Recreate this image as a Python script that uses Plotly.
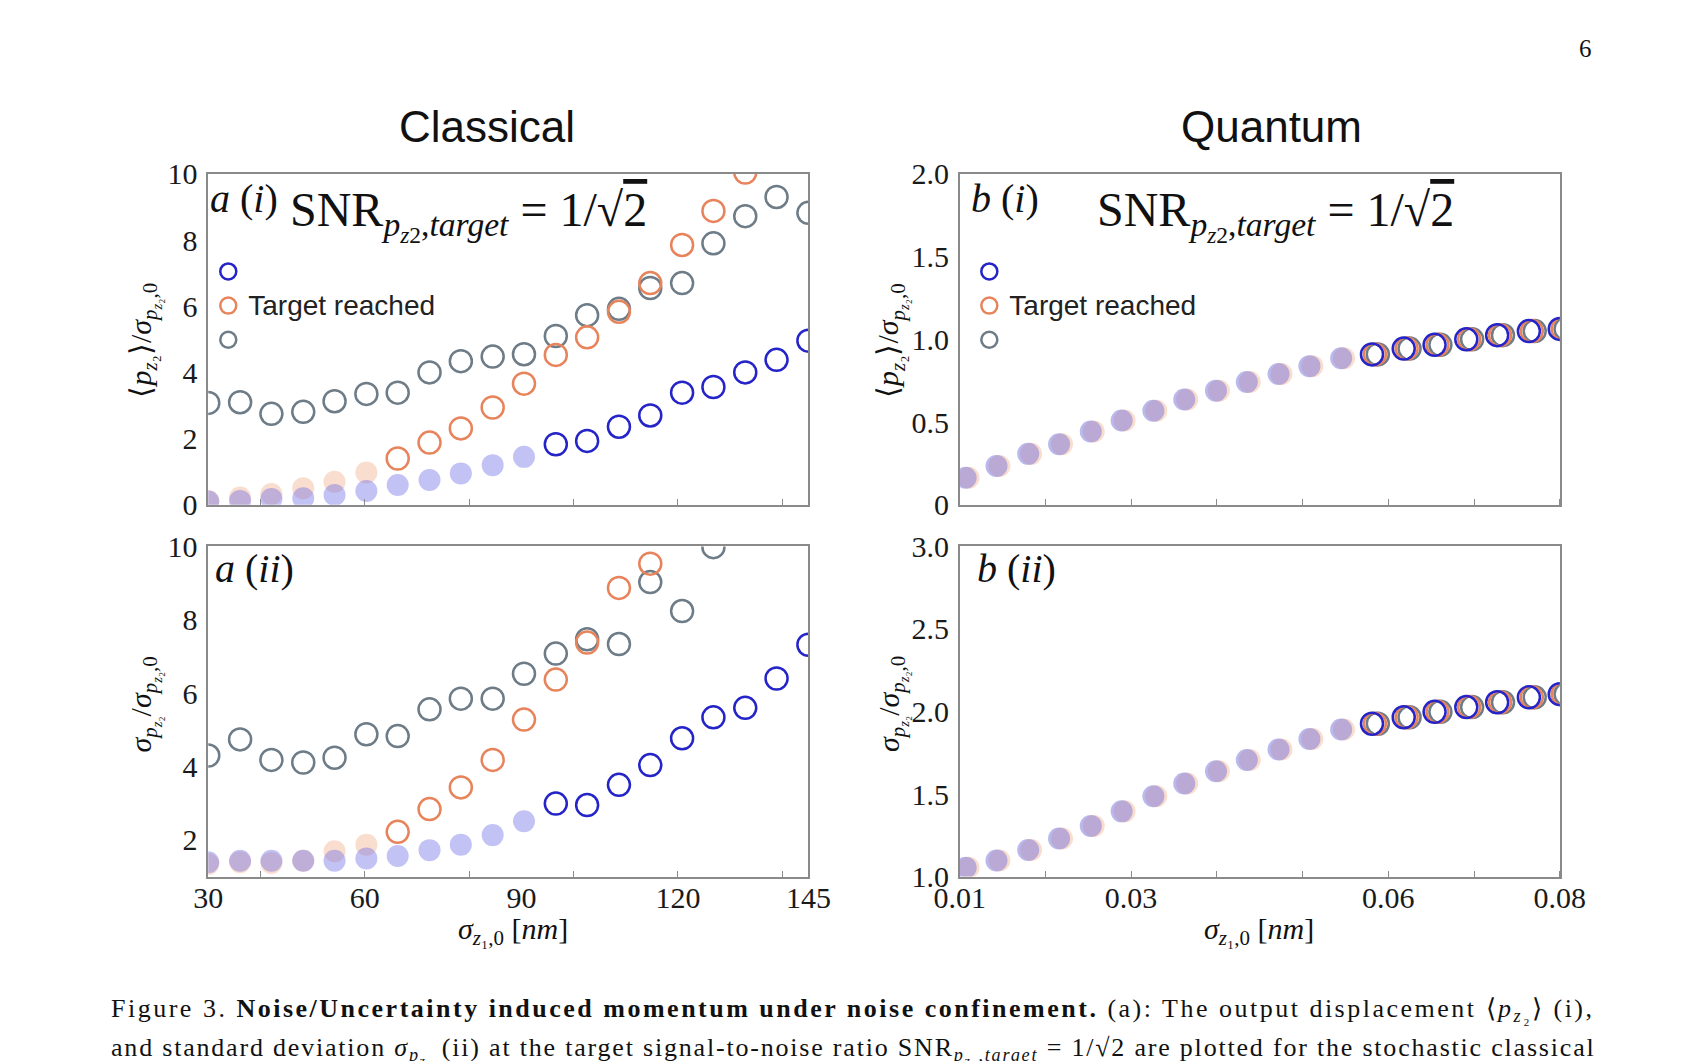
import plotly.graph_objects as go

W, H = 1705, 1061

# ---------------- data ----------------
x_classical = [30, 36.1, 42.1, 48.2, 54.2, 60.3, 66.3, 72.4, 78.4, 84.5,
               90.5, 96.6, 102.6, 108.7, 114.7, 120.8, 126.8, 132.9, 138.9, 145]
x_quantum = [0.0107, 0.0143, 0.0180, 0.0216, 0.0253, 0.0289, 0.0326, 0.0362, 0.0399, 0.0435,
             0.0472, 0.0508, 0.0545, 0.0581, 0.0618, 0.0654, 0.0691, 0.0727, 0.0764, 0.0800]

# classical (i): <p_z2>/sigma_pz2,0
a1_blue = [0.10, 0.12, 0.18, 0.20, 0.30, 0.42, 0.60, 0.75, 0.95, 1.20,
           1.45, 1.83, 1.93, 2.36, 2.70, 3.39, 3.56, 4.00, 4.38, 4.96]
a1_orange = [0.12, 0.22, 0.33, 0.50, 0.70, 0.98, 1.40, 1.88, 2.31, 2.94,
             3.66, 4.53, 5.06, 5.83, 6.70, 7.85, 8.88, 10.04, 11.2, 12.0]
a1_gray = [3.08, 3.10, 2.75, 2.81, 3.13, 3.35, 3.39, 4.00, 4.34, 4.48,
           4.55, 5.10, 5.73, 5.92, 6.55, 6.70, 7.90, 8.72, 9.30, 8.82]

# classical (ii): sigma_pz2/sigma_pz2,0
a2_blue = [1.39, 1.43, 1.43, 1.43, 1.43, 1.49, 1.56, 1.72, 1.87, 2.13,
           2.51, 2.99, 2.95, 3.50, 4.04, 4.77, 5.34, 5.60, 6.40, 7.32]
a2_orange = [1.34, 1.39, 1.37, 1.43, 1.69, 1.87, 2.22, 2.84, 3.43, 4.18,
             5.28, 6.37, 7.38, 8.87, 9.53, 10.8, 11.5, 12.2, 13.0, 13.5]
a2_gray = [4.30, 4.74, 4.18, 4.11, 4.24, 4.88, 4.83, 5.56, 5.85, 5.85,
           6.53, 7.08, 7.47, 7.34, 9.03, 8.24, 9.98, 10.8, 11.5, 12.0]

# quantum (i) and (ii): the three series coincide
b1_values = [0.164, 0.235, 0.308, 0.366, 0.443, 0.510, 0.568, 0.636, 0.690, 0.742,
             0.790, 0.838, 0.886, 0.909, 0.944, 0.967, 1.000, 1.025, 1.050, 1.063]
b2_values = [1.054, 1.097, 1.161, 1.230, 1.307, 1.395, 1.486, 1.564, 1.638, 1.706,
             1.770, 1.833, 1.891, 1.926, 1.965, 1.998, 2.027, 2.056, 2.086, 2.105]

# index of the first point where the target is reached
reached_classical = {"blue": 11, "orange": 6, "gray": 0}
reached_quantum = 13

classical_xticks = [40, 60, 80, 100, 120, 140]
classical_xlabels = [30, 60, 90, 120, 145]
quantum_xticks = [0.01, 0.02, 0.03, 0.04, 0.05, 0.06, 0.07, 0.08]
quantum_xlabels = [0.01, 0.03, 0.06, 0.08]

# ---------------- styles ----------------
COL = {"blue": "#2424c8", "orange": "#e8845c", "gray": "#6d7c87"}
FADED = {"blue": "rgba(110,110,232,0.42)", "orange": "rgba(240,165,125,0.38)",
         "gray": "rgba(150,150,165,0.14)"}
RANK = {"blue": 1, "orange": 2, "gray": 3}
LEGNAME = {"blue": " ", "orange": "<span style='font-size:28px'>Target reached</span>",
           "gray": " "}
SERIF = "Liberation Serif"
SANS = "Liberation Sans"
MS = 22
# in the quantum panels the coincident series are drawn nudged sideways (pixels)
Q_NUDGE_PX = {"gray": 6, "orange": 3, "blue": 0}

fig = go.Figure()


def add_panel(x, series, reached, xaxes, ya, legend=None, base_axis=None):
    order = ["gray", "orange", "blue"]
    for c in order:
        k = reached[c]
        if k > 0:
            xa = base_axis if (base_axis and c == "gray") else xaxes[c]
            fig.add_trace(go.Scatter(
                x=x[:k], y=series[c][:k], mode="markers", xaxis=xa, yaxis=ya,
                showlegend=False, hoverinfo="skip",
                marker=dict(size=MS, color=FADED[c], line=dict(width=0))))
    for c in order:
        k = reached[c]
        fig.add_trace(go.Scatter(
            x=x[k:], y=series[c][k:], mode="markers", xaxis=xaxes[c], yaxis=ya,
            name=LEGNAME[c], legendrank=RANK[c],
            showlegend=legend is not None, legend=legend or "legend",
            marker=dict(size=MS, symbol="circle-open", color=COL[c],
                        line=dict(width=2.5, color=COL[c]))))


add_panel(x_classical, {"blue": a1_blue, "orange": a1_orange, "gray": a1_gray},
          reached_classical, {"blue": "x", "orange": "x", "gray": "x"}, "y", legend="legend")
add_panel(x_classical, {"blue": a2_blue, "orange": a2_orange, "gray": a2_gray},
          reached_classical, {"blue": "x2", "orange": "x2", "gray": "x2"}, "y2")
qreach = {"blue": reached_quantum, "orange": reached_quantum, "gray": reached_quantum}
add_panel(x_quantum, {"blue": b1_values, "orange": b1_values, "gray": b1_values},
          qreach, {"gray": "x5", "orange": "x6", "blue": "x7"}, "y3",
          legend="legend2", base_axis="x3")
add_panel(x_quantum, {"blue": b2_values, "orange": b2_values, "gray": b2_values},
          qreach, {"gray": "x8", "orange": "x9", "blue": "x10"}, "y4", base_axis="x4")

# ---------------- layout ----------------
def px(v):
    return v / W


def py(v):
    return 1 - v / H


dom_xa = [px(188), px(807)]
dom_xb = [px(963), px(1582)]
dom_y1 = [py(504), py(162)]
dom_y2 = [py(888), py(547)]

LINE = "#8a8a8a"
tickfont = dict(family=SERIF, size=30, color="#1a1a1a")
Q_RANGE = [0.01, 0.08]


def xaxis_cfg(domain, anchor, rng, labels, texts, minor_vals, show_labels):
    return dict(domain=domain, anchor=anchor, range=rng,
                showline=True, linecolor=LINE, linewidth=1.5, mirror=True,
                showgrid=False, zeroline=False,
                tickmode="array", tickvals=labels, ticktext=texts,
                ticks="outside", ticklen=0,
                showticklabels=show_labels, tickfont=tickfont, ticklabelstandoff=-6,
                minor=dict(tickmode="array", tickvals=minor_vals, ticks="inside",
                           ticklen=6, tickcolor=LINE, tickwidth=1.2, showgrid=False))


def yaxis_cfg(domain, anchor, rng, vals, text):
    return dict(domain=domain, anchor=anchor, range=rng,
                showline=True, linecolor=LINE, linewidth=1.5, mirror=True,
                showgrid=False, zeroline=False, ticks="", tickfont=tickfont,
                ticklabelstandoff=3, tickmode="array", tickvals=vals, ticktext=text)


def nudged_axis(base, anchor, nudge_px):
    width_px = 1582 - 963
    d = (Q_RANGE[1] - Q_RANGE[0]) * nudge_px / width_px
    return dict(overlaying=base, anchor=anchor, visible=False,
                range=[Q_RANGE[0] - d, Q_RANGE[1] - d])


cl_text = [str(v) for v in classical_xlabels]
q_text = ["%.2f" % v for v in quantum_xlabels]

fig.update_layout(
    width=W, height=H, margin=dict(l=0, r=0, t=0, b=0),
    paper_bgcolor="white", plot_bgcolor="white",
    xaxis=xaxis_cfg(dom_xa, "y", [30, 145], classical_xlabels, cl_text,
                    classical_xticks, False),
    yaxis=yaxis_cfg(dom_y1, "x", [0, 10], [0, 2, 4, 6, 8, 10],
                    ["0", "2", "4", "6", "8", "10"]),
    xaxis2=xaxis_cfg(dom_xa, "y2", [30, 145], classical_xlabels, cl_text,
                     classical_xticks, True),
    yaxis2=yaxis_cfg(dom_y2, "x2", [1, 10], [2, 4, 6, 8, 10],
                     ["2", "4", "6", "8", "10"]),
    xaxis3=xaxis_cfg(dom_xb, "y3", Q_RANGE, quantum_xlabels, q_text,
                     quantum_xticks, False),
    yaxis3=yaxis_cfg(dom_y1, "x3", [0, 2], [0, 0.5, 1.0, 1.5, 2.0],
                     ["0", "0.5", "1.0", "1.5", "2.0"]),
    xaxis4=xaxis_cfg(dom_xb, "y4", Q_RANGE, quantum_xlabels, q_text,
                     quantum_xticks, True),
    yaxis4=yaxis_cfg(dom_y2, "x4", [1, 3], [1.0, 1.5, 2.0, 2.5, 3.0],
                     ["1.0", "1.5", "2.0", "2.5", "3.0"]),
    xaxis5=nudged_axis("x3", "y3", Q_NUDGE_PX["gray"]),
    xaxis6=nudged_axis("x3", "y3", Q_NUDGE_PX["orange"]),
    xaxis7=nudged_axis("x3", "y3", Q_NUDGE_PX["blue"]),
    xaxis8=nudged_axis("x4", "y4", Q_NUDGE_PX["gray"]),
    xaxis9=nudged_axis("x4", "y4", Q_NUDGE_PX["orange"]),
    xaxis10=nudged_axis("x4", "y4", Q_NUDGE_PX["blue"]),
    showlegend=True,
    legend=dict(x=px(188), y=py(240), xanchor="left", yanchor="top",
                bgcolor="rgba(0,0,0,0)", font=dict(family=SANS, size=24, color="#222"),
                tracegroupgap=0, itemwidth=30),
    legend2=dict(x=px(973), y=py(240), xanchor="left", yanchor="top",
                 bgcolor="rgba(0,0,0,0)", font=dict(family=SANS, size=24, color="#222"),
                 tracegroupgap=0, itemwidth=30),
)

ann = []


def text(x, y, s, size, family=SERIF, xanchor="left", yanchor="middle", angle=0,
         color="#111"):
    ann.append(dict(x=px(x), y=py(y), xref="paper", yref="paper", text=s,
                    showarrow=False, xanchor=xanchor, yanchor=yanchor, textangle=angle,
                    font=dict(family=family, size=size, color=color)))


text(476, 113, "Classical", 44, SANS, xanchor="center")
text(1285, 113, "Quantum", 44, SANS, xanchor="center")
text(1609, 33, "6", 25, SERIF, xanchor="center")

snr = ("SNR<sub><i>p</i><sub><i>z</i>2</sub>,<i>target</i></sub> = 1/√"
       "<span style='text-decoration:overline'>2</span>")
text(188, 187, "<i>a</i> (<i>i</i>)", 40)
text(270, 205, snr, 48)
text(973, 187, "<i>b</i> (<i>i</i>)", 40)
text(1103, 205, snr, 48)
text(193, 570, "<i>a</i> (<i>ii</i>)", 40)
text(979, 570, "<i>b</i> (<i>ii</i>)", 40)

ylab1 = "⟨<i>p</i><sub><i>z</i>₂</sub>⟩/<i>σ</i><sub><i>p</i><sub><i>z</i>₂</sub>,0</sub>"
ylab2 = "<i>σ</i><sub><i>p</i><sub><i>z</i>₂</sub></sub>/<i>σ</i><sub><i>p</i><sub><i>z</i>₂</sub>,0</sub>"
text(122, 334, ylab1, 30, xanchor="center", angle=-90)
text(122, 710, ylab2, 30, xanchor="center", angle=-90)
text(893, 334, ylab1, 30, xanchor="center", angle=-90)
text(893, 710, ylab2, 30, xanchor="center", angle=-90)

xlab = "<i>σ</i><sub><i>z</i>₁,0</sub> [<i>nm</i>]"
text(502, 944, xlab, 30, xanchor="center")
text(1272, 944, xlab, 30, xanchor="center")

cap1 = ("<span style='letter-spacing:2.5px'>Figure 3. "
        "<b>Noise/Uncertainty induced momentum under noise confinement.</b> "
        "(a): The output displacement ⟨<i>p</i><sub><i>z</i>₂</sub>⟩ (i),</span>")
cap2 = ("<span style='letter-spacing:1.8px'>and standard deviation "
        "<i>σ</i><sub><i>p</i><sub>z₂</sub></sub> (ii) at the target "
        "signal-to-noise ratio SNR<sub><i>p</i><sub>z₂</sub>,<i>target</i></sub> = 1/√2 are "
        "plotted for the stochastic classical</span>")
text(86, 1026, cap1, 26, xanchor="left")
text(86, 1068, cap2, 26, xanchor="left")

fig.update_layout(annotations=ann)

fig.write_html("out.html")
